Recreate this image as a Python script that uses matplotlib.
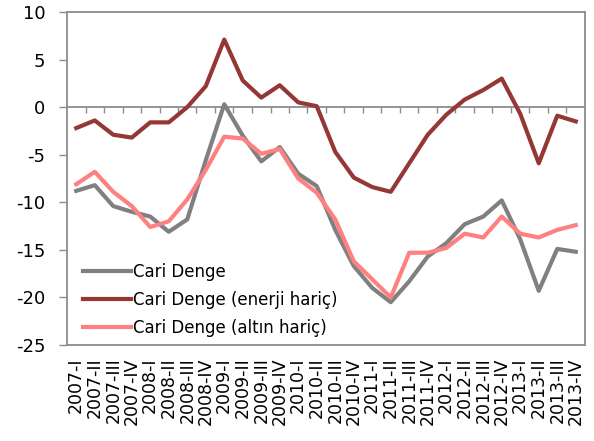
import matplotlib
matplotlib.use("Agg")
import matplotlib.pyplot as plt

plt.rcParams["font.family"] = ["DejaVu Sans"]
plt.rcParams["axes.unicode_minus"] = False

years = ["2007", "2008", "2009", "2010", "2011", "2012", "2013"]
quarters = ["I", "II", "III", "IV"]
labels = [f"{y}-{q}" for y in years for q in quarters]

cari_denge = [-8.8, -8.2, -10.4, -11.0, -11.5, -13.1, -11.8, -5.6, 0.3, -3.0,
              -5.7, -4.2, -7.0, -8.3, -12.9, -16.7, -19.0, -20.5, -18.3, -15.7,
              -14.3, -12.3, -11.5, -9.8, -13.9, -19.3, -14.9, -15.2]
enerji_haric = [-2.2, -1.4, -2.9, -3.2, -1.6, -1.6, 0.0, 2.2, 7.1, 2.8,
                1.0, 2.3, 0.5, 0.1, -4.7, -7.4, -8.4, -8.9, -5.9, -2.9,
                -0.8, 0.8, 1.8, 3.0, -0.7, -5.9, -0.9, -1.5]
altin_haric = [-8.1, -6.8, -8.9, -10.4, -12.6, -12.0, -9.7, -6.6, -3.1, -3.3,
               -4.9, -4.4, -7.5, -9.0, -11.8, -16.2, -18.1, -20.0, -15.3, -15.3,
               -14.8, -13.3, -13.7, -11.5, -13.3, -13.7, -12.9, -12.4]

series_names = ["Cari Denge", "Cari Denge (enerji hariç)", "Cari Denge (altın hariç)"]
series_colors = ["#808080", "#953735", "#FF8080"]
frame_col = "#8c8c8c"

fig = plt.figure(figsize=(5.94, 4.41), dpi=100)
ax = fig.add_axes([67 / 594, 1 - 345 / 441, 518 / 594, 333 / 441])

x = range(len(labels))
for vals, name, col in zip([cari_denge, enerji_haric, altin_haric], series_names, series_colors):
    ax.plot(x, vals, color=col, lw=3.0, label=name)

ax.set_xlim(-0.5, len(labels) - 0.5)
ax.set_ylim(-25, 10)
ax.set_yticks(range(-25, 11, 5))
ax.tick_params(axis="y", direction="out", length=5.5, width=1, color=frame_col,
               labelsize=13, pad=10)

ax.set_xticks(list(x))
ax.set_xticklabels(labels, rotation=90, fontsize=12.5)
ax.tick_params(axis="x", length=0, pad=9)

for s in ax.spines.values():
    s.set_color(frame_col)
    s.set_linewidth(1.3)

# zero line with category tick marks pointing down
sec = ax.secondary_xaxis(25 / 35)
sec.xaxis.set_ticks_position("bottom")
sec.set_xticks([i + 0.5 for i in range(len(labels) - 1)])
sec.set_xticklabels([])
sec.tick_params(direction="out", length=4.5, width=1, color=frame_col)
for s in sec.spines.values():
    s.set_color(frame_col)
    s.set_linewidth(1.3)

ax.legend(loc="lower left", bbox_to_anchor=(0.014, 0.0), frameon=False, fontsize=12,
          handlelength=2.9, handletextpad=0.1, labelspacing=0.6, borderaxespad=0.1)

fig.savefig("out.png", dpi=100)
